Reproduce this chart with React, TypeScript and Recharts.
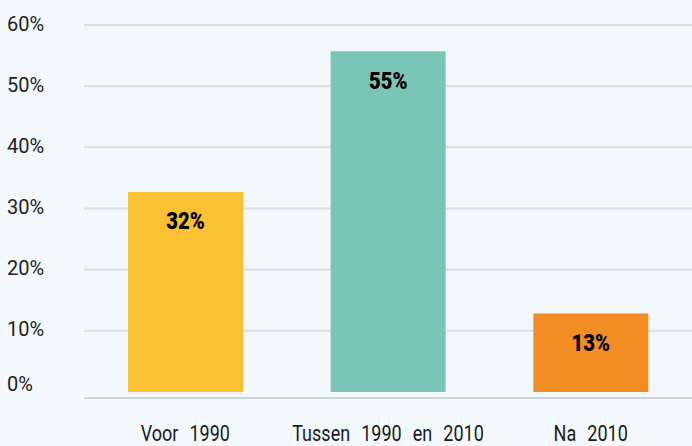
import { BarChart, Bar, XAxis, YAxis, CartesianGrid, Cell, LabelList } from 'recharts';

const categories = ['Voor 1990', 'Tussen 1990 en 2010', 'Na 2010'];
const shares = [32.7, 55.7, 12.8];
const shareLabels = ['32%', '55%', '13%'];
const barColors = ['#fbc133', '#79c6b8', '#f28d24'];
const yTicks = [0, 10, 20, 30, 40, 50, 60];
const gridValues = [10, 20, 30, 40, 50, 60];

const data = categories.map((name, i) => ({ name, share: shares[i], label: shareLabels[i] }));

const YTick = ({ y, payload }: any) => {
  const shift = payload.value === 0 ? -8 : -1.5;
  return (
    <text x={7} y={y + shift} dy="0.355em" textAnchor="start" fill="#222" fontSize={20} fontFamily="Roboto">
      {payload.value}%
    </text>
  );
};

const XTick = ({ x, y, payload }: any) => (
  <text
    transform={`translate(${x},${y + 43}) scale(0.82,1)`}
    textAnchor="middle"
    fill="#1a1a1a"
    fontSize={22}
    fontFamily="Roboto"
    style={{ wordSpacing: '8px' }}
  >
    {payload.value}
  </text>
);

const ValueLabel = ({ x, y, width, index }: any) => (
  <text
    transform={`translate(${x + width / 2},${y + 37.5}) scale(0.88,1)`}
    textAnchor="middle"
    fill="#000"
    fontSize={23}
    fontWeight={900}
    fontFamily="Roboto"
  >
    {shareLabels[index]}
  </text>
);

export default function App() {
  return (
    <div style={{ position: 'fixed', left: 0, top: 0, width: 692, height: 446, background: '#f3f8fc' }}>
      <BarChart
        width={692}
        height={446}
        data={data}
        margin={{ top: 25, right: 0, left: 0, bottom: 0 }}
        baseValue="dataMin"
      >
        <CartesianGrid vertical={false} horizontalValues={gridValues} stroke="#dcdddf" strokeWidth={2} />
        <XAxis
          dataKey="name"
          height={48}
          tickLine={false}
          tickSize={0}
          tickMargin={0}
          axisLine={{ stroke: '#d0d6dc', strokeWidth: 2 }}
          tick={<XTick />}
          interval={0}
        />
        <YAxis
          width={84}
          domain={[-1, 60]}
          ticks={yTicks}
          axisLine={false}
          tickLine={false}
          tick={<YTick />}
          interval={0}
        />
        <Bar dataKey="share" barSize={115} isAnimationActive={false}>
          {data.map((_, i) => (
            <Cell key={i} fill={barColors[i]} />
          ))}
          <LabelList dataKey="label" content={<ValueLabel />} />
        </Bar>
      </BarChart>
    </div>
  );
}
